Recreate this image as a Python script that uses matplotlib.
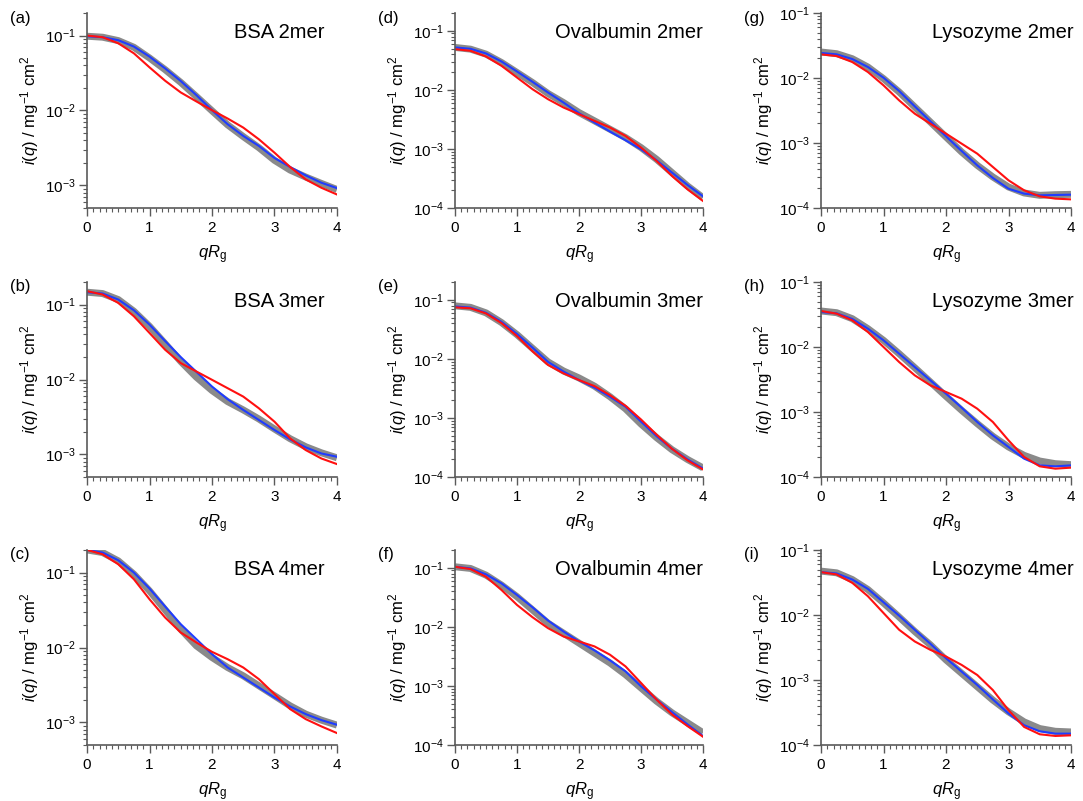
import numpy as np
import matplotlib
matplotlib.use("Agg")
import matplotlib.pyplot as plt
import matplotlib.ticker as ticker

plt.rcParams['font.family'] = ['Liberation Sans', 'DejaVu Sans']
plt.rcParams['mathtext.fontset'] = 'custom'
plt.rcParams['mathtext.rm'] = 'Liberation Sans'
plt.rcParams['mathtext.it'] = 'Liberation Sans:italic'
plt.rcParams['mathtext.bf'] = 'Liberation Sans:bold'

# qRg grid
qrg = [0, 0.25, 0.5, 0.75, 1.0, 1.25, 1.5, 1.75, 2.0, 2.25, 2.5, 2.75, 3.0, 3.25, 3.5, 3.75, 4.0]

# log10 i(q): gray (reference), blue, red
a_gray = [-1.009, -1.022, -1.067, -1.156, -1.299, -1.455, -1.625, -1.813, -2.004, -2.192, -2.348, -2.496, -2.665, -2.795, -2.888, -2.973, -3.054]
a_blue = [-1.009, -1.022, -1.062, -1.147, -1.281, -1.438, -1.607, -1.795, -1.996, -2.183, -2.339, -2.473, -2.634, -2.754, -2.866, -2.964, -3.036]
a_red = [-1.000, -1.022, -1.103, -1.237, -1.424, -1.603, -1.759, -1.879, -1.996, -2.107, -2.228, -2.384, -2.563, -2.754, -2.920, -3.031, -3.121]

b_gray = [-0.835, -0.853, -0.933, -1.089, -1.290, -1.522, -1.759, -1.969, -2.147, -2.295, -2.406, -2.527, -2.661, -2.790, -2.897, -2.978, -3.045]
b_blue = [-0.835, -0.853, -0.933, -1.076, -1.268, -1.487, -1.701, -1.897, -2.094, -2.263, -2.406, -2.540, -2.674, -2.799, -2.906, -2.987, -3.031]
b_red = [-0.821, -0.866, -0.978, -1.156, -1.379, -1.603, -1.781, -1.893, -2.004, -2.116, -2.228, -2.384, -2.563, -2.786, -2.942, -3.054, -3.129]

c_gray = [-0.698, -0.733, -0.844, -1.022, -1.244, -1.498, -1.756, -1.978, -2.133, -2.267, -2.378, -2.511, -2.644, -2.778, -2.889, -2.969, -3.036]
c_blue = [-0.698, -0.733, -0.836, -1.000, -1.213, -1.453, -1.689, -1.889, -2.089, -2.267, -2.400, -2.533, -2.667, -2.787, -2.889, -2.969, -3.031]
c_red = [-0.698, -0.756, -0.889, -1.089, -1.356, -1.600, -1.800, -1.933, -2.058, -2.156, -2.267, -2.422, -2.622, -2.822, -2.956, -3.053, -3.142]

d_gray = [-1.282, -1.311, -1.395, -1.537, -1.706, -1.876, -2.062, -2.215, -2.384, -2.525, -2.667, -2.808, -2.977, -3.175, -3.401, -3.627, -3.825]
d_blue = [-1.282, -1.305, -1.384, -1.520, -1.689, -1.864, -2.045, -2.215, -2.395, -2.554, -2.706, -2.853, -3.006, -3.192, -3.401, -3.610, -3.802]
d_red = [-1.311, -1.339, -1.435, -1.593, -1.791, -1.989, -2.158, -2.299, -2.412, -2.525, -2.638, -2.780, -2.977, -3.203, -3.458, -3.684, -3.881]

e_gray = [-1.103, -1.128, -1.221, -1.385, -1.590, -1.821, -2.051, -2.205, -2.323, -2.462, -2.641, -2.846, -3.103, -3.333, -3.538, -3.703, -3.846]
e_blue = [-1.113, -1.133, -1.221, -1.374, -1.579, -1.810, -2.051, -2.215, -2.359, -2.487, -2.641, -2.810, -3.062, -3.308, -3.523, -3.703, -3.856]
e_red = [-1.128, -1.144, -1.231, -1.395, -1.615, -1.872, -2.103, -2.246, -2.359, -2.462, -2.615, -2.795, -3.026, -3.282, -3.523, -3.718, -3.872]

f_gray = [-0.983, -1.011, -1.124, -1.292, -1.489, -1.713, -1.938, -2.107, -2.275, -2.444, -2.612, -2.809, -3.034, -3.258, -3.455, -3.624, -3.792]
f_blue = [-0.983, -1.011, -1.112, -1.264, -1.461, -1.669, -1.893, -2.079, -2.247, -2.399, -2.567, -2.753, -3.006, -3.230, -3.444, -3.652, -3.848]
f_red = [-0.983, -1.022, -1.152, -1.376, -1.629, -1.837, -2.022, -2.163, -2.247, -2.331, -2.472, -2.669, -2.949, -3.230, -3.483, -3.680, -3.860]

g_gray = [-1.600, -1.626, -1.703, -1.831, -2.010, -2.215, -2.446, -2.677, -2.908, -3.138, -3.344, -3.523, -3.677, -3.769, -3.805, -3.795, -3.790]
g_blue = [-1.615, -1.636, -1.708, -1.831, -1.995, -2.200, -2.436, -2.667, -2.897, -3.123, -3.344, -3.538, -3.703, -3.779, -3.805, -3.800, -3.795]
g_red = [-1.636, -1.662, -1.754, -1.908, -2.113, -2.344, -2.549, -2.703, -2.856, -3.010, -3.164, -3.369, -3.574, -3.728, -3.821, -3.856, -3.867]

h_gray = [-1.446, -1.472, -1.564, -1.718, -1.897, -2.103, -2.318, -2.538, -2.759, -2.974, -3.179, -3.374, -3.538, -3.667, -3.754, -3.795, -3.810]
h_blue = [-1.462, -1.482, -1.569, -1.718, -1.897, -2.103, -2.308, -2.513, -2.718, -2.933, -3.154, -3.359, -3.538, -3.718, -3.821, -3.836, -3.821]
h_red = [-1.446, -1.487, -1.590, -1.769, -2.000, -2.231, -2.436, -2.590, -2.692, -2.795, -2.949, -3.154, -3.436, -3.692, -3.836, -3.872, -3.856]

i_gray = [-1.325, -1.351, -1.454, -1.608, -1.814, -2.031, -2.253, -2.459, -2.691, -2.897, -3.103, -3.309, -3.490, -3.644, -3.747, -3.789, -3.799]
i_blue = [-1.340, -1.361, -1.454, -1.598, -1.804, -2.010, -2.227, -2.443, -2.665, -2.871, -3.077, -3.299, -3.515, -3.696, -3.789, -3.825, -3.825]
i_red = [-1.340, -1.376, -1.505, -1.711, -1.969, -2.227, -2.407, -2.536, -2.639, -2.768, -2.923, -3.155, -3.464, -3.722, -3.835, -3.861, -3.851]

labels = ['(a)', '(b)', '(c)', '(d)', '(e)', '(f)', '(g)', '(h)', '(i)']
names = ['BSA 2mer', 'BSA 3mer', 'BSA 4mer',
         'Ovalbumin 2mer', 'Ovalbumin 3mer', 'Ovalbumin 4mer',
         'Lysozyme 2mer', 'Lysozyme 3mer', 'Lysozyme 4mer']
curves = [(a_gray, a_blue, a_red), (b_gray, b_blue, b_red), (c_gray, c_blue, c_red),
          (d_gray, d_blue, d_red), (e_gray, e_blue, e_red), (f_gray, f_blue, f_red),
          (g_gray, g_blue, g_red), (h_gray, h_blue, h_red), (i_gray, i_blue, i_red)]
ylims = [(5e-4, 0.2)] * 3 + [(1e-4, 0.2)] * 3 + [(1e-4, 0.1)] * 3
name_x = [0.95] * 3 + [1.0] * 3 + [1.01] * 3

W, H = 1083, 801
lefts = [87, 455, 821]
widths = [250, 248, 250]
bottoms = [208, 477, 745]
ax_h = 195

fig = plt.figure(figsize=(W / 100, H / 100), dpi=100)
spine_col = '#5a5a5a'

for k in range(9):
    col, row = k // 3, k % 3
    ax = fig.add_axes([lefts[col] / W, 1 - bottoms[row] / H, widths[col] / W, ax_h / H])
    gray, blue, red = curves[k]
    ax.plot(qrg, 10.0 ** np.array(gray), color='#8a8a8a', lw=5, solid_capstyle='butt')
    ax.plot(qrg, 10.0 ** np.array(blue), color='#1f3cff', lw=1.5)
    ax.plot(qrg, 10.0 ** np.array(red), color='#ff1010', lw=1.5)
    ax.set_yscale('log')
    ax.set_xlim(0, 4)
    ax.set_ylim(*ylims[k])
    ax.xaxis.set_major_locator(ticker.MultipleLocator(1))
    ax.xaxis.set_minor_locator(ticker.MultipleLocator(0.1))
    ax.yaxis.set_major_locator(ticker.LogLocator(base=10, numticks=10))
    ax.yaxis.set_minor_locator(ticker.LogLocator(base=10, subs=np.arange(2, 10), numticks=20))
    ax.yaxis.set_minor_formatter(ticker.NullFormatter())
    ax.yaxis.set_major_formatter(ticker.FuncFormatter(
        lambda v, _: r'$\mathregular{10^{%d}}$' % int(round(np.log10(v)))))
    for s in ['top', 'right']:
        ax.spines[s].set_visible(False)
    for s in ['left', 'bottom']:
        ax.spines[s].set_color(spine_col)
        ax.spines[s].set_linewidth(1.2)
    ax.tick_params(which='major', length=6, width=1.0, color=spine_col, labelsize=11, direction='out')
    ax.tick_params(which='minor', length=3, width=0.8, color=spine_col, direction='out')
    ax.tick_params(axis='y', pad=2)
    ax.set_xlabel(r'$qR_{\mathregular{g}}$', fontsize=12, labelpad=6)
    ax.set_ylabel(r'$i(q)$ / mg$^{\mathregular{-1}}$ cm$^{\mathregular{2}}$', fontsize=12, labelpad=3)
    ax.text(name_x[k], 0.90, names[k], transform=ax.transAxes, ha='right', va='center', fontsize=14.5)
    fig.text((lefts[col] - 77) / W, 1 - 18 / H - (bottoms[row] - 208) / H, labels[k],
             ha='left', va='center', fontsize=12)

plt.savefig('out.png', dpi=100)
